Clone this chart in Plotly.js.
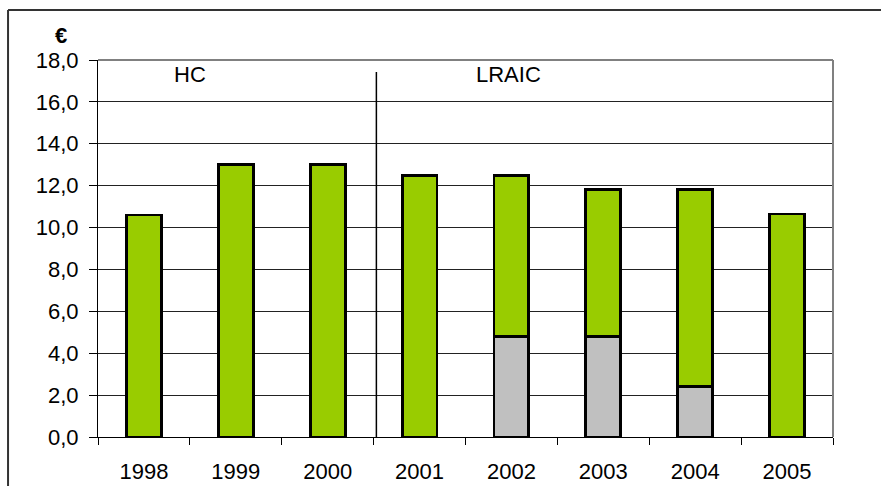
<!DOCTYPE html>
<html>
<head>
<meta charset="utf-8">
<script src="https://cdn.plot.ly/plotly-3.0.1.min.js"></script>
<style>
  html, body { margin: 0; padding: 0; background: #fff; }
  #chart { width: 881px; height: 486px; }
</style>
</head>
<body>
<div id="chart"></div>
<script>
// Categories (years)
const years = ["1998", "1999", "2000", "2001", "2002", "2003", "2004", "2005"];
// Lower (grey) segment values, € (null = no segment)
const greyValues = [null, null, null, null, 4.8, 4.8, 2.4, null];
// Upper (green) segment values, €
const greenValues = [10.6, 13.0, 13.0, 12.5, 7.7, 7.0, 9.4, 10.65];
// Y tick values and labels
const yTickVals = [0, 2, 4, 6, 8, 10, 12, 14, 16, 18];
const yTickText = ["0,0", "2,0", "4,0", "6,0", "8,0", "10,0", "12,0", "14,0", "16,0", "18,0"];
// Section labels
const sectionLabels = ["HC", "LRAIC"];

const FONT = "Liberation Sans, Arial, sans-serif";
const FS = 22;

const traces = [
  {
    type: "bar",
    x: years,
    y: greyValues,
    marker: { color: "#C0C0C0", line: { color: "#000000", width: 2.8 } },
    hoverinfo: "skip"
  },
  {
    type: "bar",
    x: years,
    y: greenValues,
    marker: { color: "#99CC00", line: { color: "#000000", width: 2.8 } },
    hoverinfo: "skip"
  }
];

const layout = {
  width: 881,
  height: 486,
  margin: { l: 98, r: 48, t: 60, b: 49 },
  paper_bgcolor: "#ffffff",
  plot_bgcolor: "#ffffff",
  showlegend: false,
  barmode: "stack",
  bargap: 0.62,
  font: { family: FONT, size: FS, color: "#000" },
  xaxis: {
    type: "category",
    range: [-0.5, 7.5],
    tickson: "boundaries",
    ticks: "outside",
    ticklen: 7,
    tickwidth: 1,
    tickcolor: "#000",
    showline: true,
    linecolor: "#000",
    linewidth: 1,
    showgrid: false,
    zeroline: false,
    tickfont: { family: FONT, size: FS, color: "#000" },
    ticklabelstandoff: 15,
    fixedrange: true
  },
  yaxis: {
    range: [0, 18],
    tickvals: yTickVals,
    ticktext: yTickText,
    ticks: "outside",
    ticklen: 8,
    tickwidth: 1,
    tickcolor: "#000",
    showline: true,
    linecolor: "#000",
    linewidth: 1,
    showgrid: true,
    gridcolor: "#222",
    gridwidth: 1,
    zeroline: false,
    tickfont: { family: FONT, size: FS, color: "#000" },
    ticklabelstandoff: 6,
    fixedrange: true
  },
  shapes: [
    // grey plot-area border (top and right)
    { type: "line", xref: "paper", yref: "paper", x0: 0, x1: 1, y0: 1, y1: 1,
      line: { color: "#808080", width: 2 }, layer: "above" },
    { type: "line", xref: "paper", yref: "paper", x0: 1, x1: 1, y0: 0, y1: 1,
      line: { color: "#808080", width: 2 }, layer: "above" },
    // divider between HC and LRAIC
    { type: "line", xref: "x", yref: "y", x0: 2.53, x1: 2.53, y0: -0.15, y1: 17.43,
      line: { color: "#000", width: 1.5 }, layer: "above" },
    // outer chart frame
    { type: "line", xref: "paper", yref: "paper", x0: -0.1224, x1: 1.2, y0: 1.1326, y1: 1.1326,
      line: { color: "#333", width: 2 } },
    { type: "line", xref: "paper", yref: "paper", x0: -0.1224, x1: -0.1224, y0: -0.3, y1: 1.1326,
      line: { color: "#333", width: 2 } }
  ],
  annotations: [
    { xref: "x", yref: "y", x: 0.5, y: 17.3, text: sectionLabels[0], showarrow: false,
      xanchor: "center", yanchor: "middle",
      font: { family: FONT, size: FS, color: "#000" } },
    { xref: "x", yref: "y", x: 3.97, y: 17.3, text: sectionLabels[1], showarrow: false,
      xanchor: "center", yanchor: "middle",
      font: { family: FONT, size: FS, color: "#000" } },
    { xref: "paper", yref: "paper", x: -0.05, y: 1.066, text: "<b>€</b>", showarrow: false,
      xanchor: "center", yanchor: "middle",
      font: { family: FONT, size: FS, color: "#000" } }
  ]
};

Plotly.newPlot("chart", traces, layout, { displayModeBar: false, staticPlot: true });
</script>
</body>
</html>
